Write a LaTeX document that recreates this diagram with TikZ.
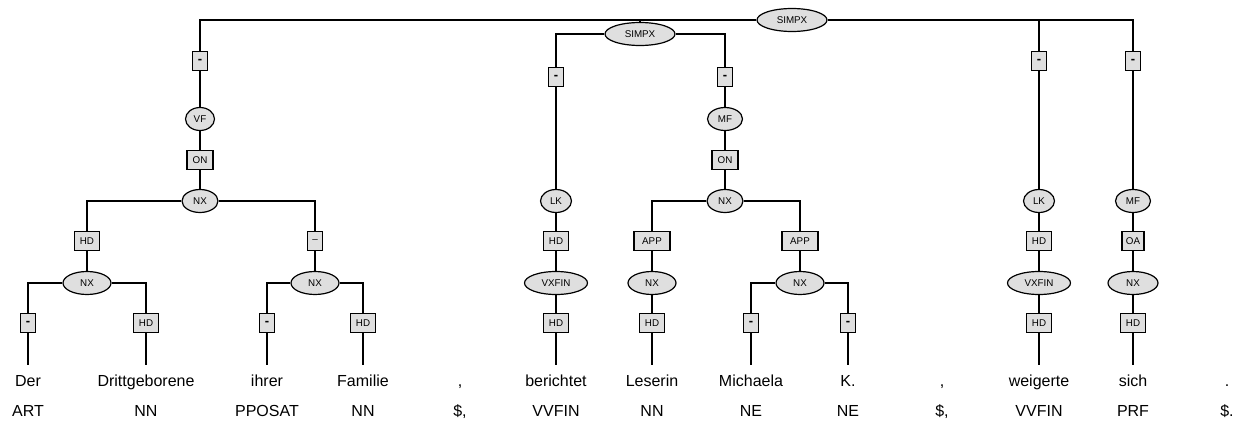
\documentclass[tikz,border=0pt]{standalone}
\usepackage{fontspec}
\setmainfont{Liberation Sans}
\usetikzlibrary{shapes.geometric}

\newcommand{\nolab}{{\fontsize{13}{13}\selectfont\bfseries -}}

\begin{document}
\begin{tikzpicture}[x=1pt, y=-1pt, line width=1.2pt,
    cat/.style={ellipse, draw, fill=gray!25, inner sep=1pt,
        minimum height=23pt, minimum width=#1,
        font=\fontsize{9.8}{10}\selectfont},
    cat/.default=30pt,
    lab/.style={rectangle, draw, fill=gray!25, inner sep=1pt,
        minimum height=19pt, minimum width=#1,
        font=\fontsize{9.8}{10}\selectfont},
    lab/.default=15pt,
    word/.style={anchor=base, font=\fontsize{16}{18}\selectfont,
        text height=12pt, text depth=4pt, inner ysep=8pt, inner xsep=0pt},
    tag/.style={anchor=base, font=\fontsize{16}{18}\selectfont}]
    \useasboundingbox (0,0) rectangle (1248,428);

    % phrases
    \node[cat=70pt] (s1) at (792,20) {SIMPX};
    \node[cat=70pt] (s2) at (640,34) {SIMPX};
    \node[lab] (e1) at (200,61) {\nolab};
    \node[lab] (e2) at (1039,61) {\nolab};
    \node[lab] (e3) at (1133,61) {\nolab};
    \node[lab] (e4) at (556,77) {\nolab};
    \node[lab] (e5) at (725,77) {\nolab};

    % fields
    \node[cat=29pt] (vf) at (200,119) {VF};
    \node[cat=35pt] (mf1) at (725,119) {MF};
    \node[lab=26pt] (on1) at (200,160) {ON};
    \node[lab=26pt] (on2) at (725,160) {ON};
    \node[cat=36pt] (nx1) at (200,201) {NX};
    \node[cat=36pt] (nx4) at (725,201) {NX};
    \node[cat=31pt] (lk1) at (556,201) {LK};
    \node[cat=31pt] (lk2) at (1039,201) {LK};
    \node[cat=35pt] (mf2) at (1133,201) {MF};

    \node[lab=25pt] (e6) at (87,241) {HD};
    \node[lab] (e7) at (315,241) {–};
    \node[lab=25pt] (e8) at (556,241) {HD};
    \node[lab=36pt] (e9) at (652,241) {APP};
    \node[lab=36pt] (e10) at (800,241) {APP};
    \node[lab=25pt] (e11) at (1039,241) {HD};
    \node[lab=22pt] (e12) at (1133,241) {OA};

    \node[cat=48pt] (nx2) at (87,283) {NX};
    \node[cat=48pt] (nx3) at (315,283) {NX};
    \node[cat=63pt] (vx1) at (556,283) {VXFIN};
    \node[cat=48pt] (nx5) at (652,283) {NX};
    \node[cat=48pt] (nx6) at (800,283) {NX};
    \node[cat=63pt] (vx2) at (1039,283) {VXFIN};
    \node[cat=50pt] (nx7) at (1133,283) {NX};

    \node[lab] (e13) at (28,323) {\nolab};
    \node[lab=25pt] (e14) at (146,323) {HD};
    \node[lab] (e15) at (267,323) {\nolab};
    \node[lab=25pt] (e16) at (363,323) {HD};
    \node[lab=25pt] (e17) at (556,323) {HD};
    \node[lab=25pt] (e18) at (652,323) {HD};
    \node[lab] (e19) at (751,323) {\nolab};
    \node[lab] (e20) at (848,323) {\nolab};
    \node[lab=25pt] (e21) at (1039,323) {HD};
    \node[lab=25pt] (e22) at (1133,323) {HD};

    % tokens and tags
    \node[word] (w1) at (28,386) {Der};          \node[tag] (p1) at (28,416) {ART};
    \node[word] (w2) at (146,386) {Drittgeborene}; \node[tag] (p2) at (146,416) {NN};
    \node[word] (w3) at (267,386) {ihrer};       \node[tag] (p3) at (267,416) {PPOSAT};
    \node[word] (w4) at (363,386) {Familie};     \node[tag] (p4) at (363,416) {NN};
    \node[word] (w5) at (460,386) {,};           \node[tag] (p5) at (460,416) {\$,};
    \node[word] (w6) at (556,386) {berichtet};   \node[tag] (p6) at (556,416) {VVFIN};
    \node[word] (w7) at (652,386) {Leserin};     \node[tag] (p7) at (652,416) {NN};
    \node[word] (w8) at (751,386) {Michaela};    \node[tag] (p8) at (751,416) {NE};
    \node[word] (w9) at (848,386) {K.};          \node[tag] (p9) at (848,416) {NE};
    \node[word] (w10) at (942,386) {,};          \node[tag] (p10) at (942,416) {\$,};
    \node[word] (w11) at (1039,386) {weigerte};  \node[tag] (p11) at (1039,416) {VVFIN};
    \node[word] (w12) at (1133,386) {sich};      \node[tag] (p12) at (1133,416) {PRF};
    \node[word] (w13) at (1227,386) {.};         \node[tag] (p13) at (1227,416) {\$.};

    % edges
    \draw (s1.west) -| (e1.north);
    \draw (s1.west) -| (s2.north);
    \draw (s1.east) -| (e2.north);
    \draw (s1.east) -| (e3.north);
    \draw (e1) -- (vf) -- (on1) -- (nx1);
    \draw (nx1.west) -| (e6.north);
    \draw (nx1.east) -| (e7.north);
    \draw (e6) -- (nx2);
    \draw (e7) -- (nx3);
    \draw (nx2.west) -| (e13.north);
    \draw (nx2.east) -| (e14.north);
    \draw (nx3.west) -| (e15.north);
    \draw (nx3.east) -| (e16.north);
    \draw (e13) -- (w1);
    \draw (e14) -- (w2);
    \draw (e15) -- (w3);
    \draw (e16) -- (w4);

    \draw (s2.west) -| (e4.north);
    \draw (s2.east) -| (e5.north);
    \draw (e4) -- (lk1) -- (e8) -- (vx1) -- (e17) -- (w6);
    \draw (e5) -- (mf1) -- (on2) -- (nx4);
    \draw (nx4.west) -| (e9.north);
    \draw (nx4.east) -| (e10.north);
    \draw (e9) -- (nx5) -- (e18) -- (w7);
    \draw (e10) -- (nx6);
    \draw (nx6.west) -| (e19.north);
    \draw (nx6.east) -| (e20.north);
    \draw (e19) -- (w8);
    \draw (e20) -- (w9);

    \draw (e2) -- (lk2) -- (e11) -- (vx2) -- (e21) -- (w11);
    \draw (e3) -- (mf2) -- (e12) -- (nx7) -- (e22) -- (w12);
\end{tikzpicture}
\end{document}
